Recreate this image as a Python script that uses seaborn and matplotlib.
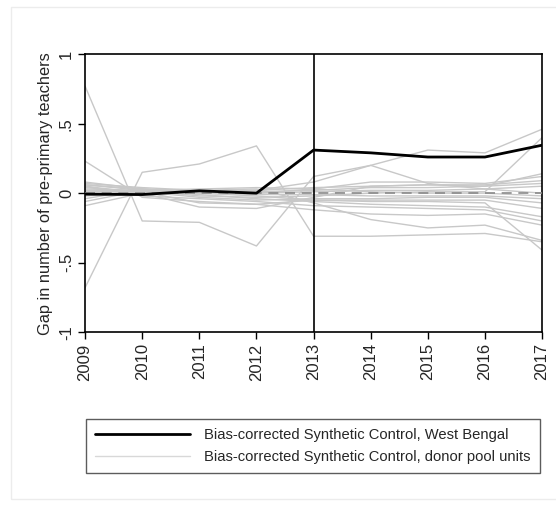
import numpy as np
import pandas as pd
import matplotlib
matplotlib.use('Agg')
import matplotlib.pyplot as plt
import seaborn as sns
from matplotlib.patches import Rectangle
from matplotlib.lines import Line2D

years = [2009, 2010, 2011, 2012, 2013, 2014, 2015, 2016, 2017]

# treated unit
west_bengal = [-0.007, -0.01, 0.017, 0.0, 0.31, 0.29, 0.26, 0.26, 0.345]

# donor pool placebo gaps
donors = {
    'd1': [0.77, -0.20, -0.21, -0.38, 0.12, 0.20, 0.07, 0.03, 0.00],
    'd2': [-0.68, 0.15, 0.21, 0.34, -0.31, -0.31, -0.30, -0.29, -0.35],
    'd3': [0.23, -0.03, -0.06, -0.08, -0.12, -0.15, -0.16, -0.15, -0.23],
    'd4': [0.08, 0.03, 0.01, 0.02, 0.08, 0.20, 0.31, 0.29, 0.46],
    'd5': [0.07, 0.04, 0.02, 0.03, -0.07, -0.19, -0.25, -0.23, -0.34],
    'd6': [0.06, 0.02, -0.02, -0.03, -0.02, 0.00, 0.01, 0.01, 0.40],
    'd7': [0.05, 0.00, -0.10, -0.11, -0.03, 0.05, 0.06, 0.05, 0.14],
    'd8': [0.04, 0.01, -0.07, -0.08, -0.05, -0.06, -0.06, -0.07, -0.41],
    'd9': [0.03, 0.02, 0.03, 0.04, 0.03, 0.08, 0.08, 0.07, 0.12],
    'd10': [0.02, 0.00, 0.00, 0.01, 0.02, 0.04, 0.04, 0.05, 0.07],
    'd11': [-0.02, 0.01, -0.03, -0.05, -0.04, -0.04, -0.03, -0.03, -0.07],
    'd12': [-0.04, 0.03, 0.00, -0.02, -0.05, -0.05, -0.05, -0.05, -0.11],
    'd13': [-0.06, 0.02, -0.01, -0.04, -0.06, -0.08, -0.09, -0.10, -0.17],
    'd14': [-0.09, 0.00, 0.02, 0.00, 0.01, 0.02, 0.02, 0.03, 0.05],
    'd15': [0.06, 0.03, 0.01, 0.02, 0.04, 0.05, 0.06, 0.06, 0.09],
    'd16': [0.05, -0.02, -0.04, -0.06, -0.09, -0.10, -0.11, -0.12, -0.20],
    'd17': [0.01, 0.01, 0.00, -0.01, -0.01, -0.02, -0.02, -0.02, -0.04],
    'd18': [0.02, 0.02, 0.01, 0.00, 0.03, 0.01, 0.00, 0.00, -0.02],
}

ytick_vals = [-1, -0.5, 0, 0.5, 1]
ytick_labels = ['-1', '-.5', '0', '.5', '1']

sns.set_style('white')
plt.rcParams['font.family'] = ['Liberation Sans', 'DejaVu Sans']

donor_df = pd.DataFrame(
    [(k, y, v) for k, vals in donors.items() for y, v in zip(years, vals)],
    columns=['unit', 'year', 'gap'])
wb_df = pd.DataFrame({'year': years, 'gap': west_bengal})

fig = plt.figure(figsize=(5.56, 5.11), dpi=100)
ax = fig.add_axes([0.153, 0.350, 0.822, 0.544])

sns.lineplot(data=donor_df, x='year', y='gap', units='unit', estimator=None,
             color='#c8c8c8', lw=1, ax=ax, legend=False)
ax.axhline(0, color='#8a8a8a', lw=1.2, ls=(0, (6, 4)), zorder=3)
sns.lineplot(data=wb_df, x='year', y='gap', color='black', lw=2, ax=ax,
             legend=False, zorder=4)
ax.axvline(2013, color='black', lw=1.2, zorder=5)

ax.set_xlim(2009, 2017)
ax.set_ylim(-1, 1)
ax.set_xticks(years)
ax.set_xticklabels([str(y) for y in years], rotation=90, fontsize=12)
ax.set_yticks(ytick_vals)
ax.set_yticklabels(ytick_labels, rotation=90, va='center', fontsize=12)
ax.tick_params(axis='both', direction='out', length=5, width=1, color='black',
               bottom=True, left=True, pad=3)
for s in ax.spines.values():
    s.set_color('black')
    s.set_linewidth(1.2)
ax.set_xlabel('')
ax.set_ylabel('Gap in number of pre-primary teachers', fontsize=11.8, labelpad=4)

# outer graph region frame
fig.patches.append(Rectangle((0.02, 0.023), 1.0, 0.963, transform=fig.transFigure,
                             fill=False, edgecolor='#ececec', lw=1, zorder=0))

handles = [Line2D([], [], color='black', lw=2),
           Line2D([], [], color='#d8d8d8', lw=1)]
labels = ['Bias-corrected Synthetic Control, West Bengal',
          'Bias-corrected Synthetic Control, donor pool units']
leg = fig.legend(handles, labels, loc='center', bbox_to_anchor=(0.563, 0.127),
                 frameon=True, fancybox=False, fontsize=10.6, handlelength=6.4,
                 handletextpad=1.0, borderpad=0.6, labelspacing=0.55,
                 borderaxespad=0)
leg.get_frame().set_edgecolor('#333333')
leg.get_frame().set_linewidth(1)

fig.savefig('out.png', dpi=100)
